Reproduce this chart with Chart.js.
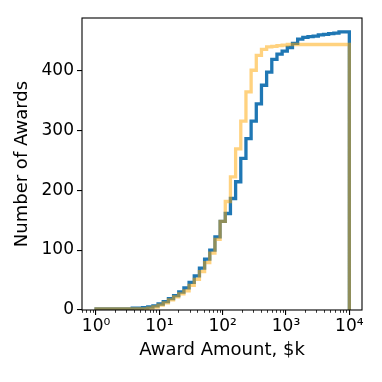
<!DOCTYPE html>
<html><head><meta charset="utf-8">
<script src="https://cdn.jsdelivr.net/npm/chart.js@4.4.0/dist/chart.umd.min.js"></script>
<style>html,body{margin:0;padding:0;background:#fff;} #wrap{width:382px;height:382px;}</style>
</head><body><div id="wrap"><canvas id="c" width="382" height="382"></canvas></div>
<script>
// Histogram bins: log-spaced from 10^0 to 10^4
const binCount = 49;
const logMin = 0;
const logMax = 4;
// Cumulative counts per bin
const blueCounts = [2,2,2,2,2,2,2,2,3,3,4,5,7,10,14,19,24,30,37,46,57,70,85,100,122,148,161,186,214,253,286,315,344,375,397,418,427,432,438,445,452,455,456,457,459,460,461,462,464];
const orangeCounts = [2,2,2,2,2,2,2,2,2,2,2,3,5,8,12,17,22,27,32,41,51,64,79,95,118,148,181,222,269,315,364,400,425,435,439,440,441,442,443,443,443,443,443,443,443,443,443,443,443];
const xTickValues = [1, 10, 100, 1000, 10000];
const xTickLabels = ['10⁰', '10¹', '10²', '10³', '10⁴'];
const yTickValues = [0, 100, 200, 300, 400];
const xLabel = 'Award Amount, $k';
const yLabel = 'Number of Awards';

const binEdges = Array.from({length: binCount + 1}, (_, k) => Math.pow(10, logMin + (logMax - logMin) * k / binCount));

function stepPoints(counts) {
  const pts = [{x: binEdges[0], y: 0}];
  counts.forEach((c, k) => pts.push({x: binEdges[k], y: c}));
  pts.push({x: binEdges[binCount], y: counts[counts.length - 1]});
  pts.push({x: binEdges[binCount], y: 0});
  return pts;
}

const span = logMax - logMin;
const xMin = Math.pow(10, logMin - 0.05 * span);
const xMax = Math.pow(10, logMax + 0.05 * span);
const yMax = Math.max(...blueCounts, ...orangeCounts) * 1.05;

const frame = {
  id: 'frame',
  afterDatasetsDraw(chart) {
    const {ctx, chartArea: a, scales: {x}} = chart;
    ctx.save();
    ctx.strokeStyle = '#000';
    ctx.lineWidth = 0.8;
    for (let n = -1; n <= 5; n++) {
      for (let m = 2; m <= 9; m++) {
        const v = m * Math.pow(10, n);
        if (v < x.min || v > x.max) continue;
        const px = Math.round(x.getPixelForValue(v)) + 0.5;
        ctx.beginPath();
        ctx.moveTo(px, a.bottom);
        ctx.lineTo(px, a.bottom + 2.8);
        ctx.stroke();
      }
    }
    ctx.lineWidth = 1.1;
    ctx.strokeRect(a.left, a.top, a.right - a.left, a.bottom - a.top);
    ctx.restore();
  }
};

const font = {family: 'DejaVu Sans', size: 17};
const titleFont = {family: 'DejaVu Sans', size: 18};

new Chart(document.getElementById('c'), {
  type: 'line',
  data: {
    datasets: [
      {
        data: stepPoints(orangeCounts),
        borderColor: 'rgba(255,165,0,0.5)',
        borderWidth: 3.3,
        stepped: 'after',
        fill: false,
        pointRadius: 0,
        borderJoinStyle: 'miter',
        borderCapStyle: 'butt',
        clip: 0
      },
      {
        data: stepPoints(blueCounts),
        borderColor: '#1f77b4',
        borderWidth: 3.3,
        stepped: 'after',
        fill: false,
        pointRadius: 0,
        borderJoinStyle: 'miter',
        borderCapStyle: 'butt',
        clip: 0
      }
    ]
  },
  options: {
    responsive: false,
    animation: false,
    layout: {padding: {top: 18, right: 20, bottom: 0, left: 0}},
    plugins: {legend: {display: false}, tooltip: {enabled: false}},
    elements: {line: {tension: 0}, point: {radius: 0}},
    scales: {
      x: {
        type: 'logarithmic',
        position: 'bottom',
        min: xMin,
        max: xMax,
        afterBuildTicks: s => { s.ticks = xTickValues.map(v => ({value: v})); },
        afterFit: s => { s.height = 72; },
        ticks: {
          autoSkip: false, maxRotation: 0, minRotation: 0, padding: 1, color: '#000', font,
          callback: v => { const i = xTickValues.indexOf(v); return i >= 0 ? xTickLabels[i] : ''; }
        },
        grid: {display: true, drawOnChartArea: false, drawTicks: true, tickLength: 5, color: '#000', lineWidth: 1.1},
        border: {display: false},
        title: {display: true, text: xLabel, color: '#000', font: titleFont, padding: {top: 0, bottom: 20.8}}
      },
      y: {
        type: 'linear',
        position: 'left',
        min: 0,
        max: yMax,
        afterBuildTicks: s => { s.ticks = yTickValues.map(v => ({value: v})); },
        afterFit: s => { s.width = 82; },
        ticks: {padding: 3, color: '#000', font, callback: v => String(v)},
        grid: {display: true, drawOnChartArea: false, drawTicks: true, tickLength: 5, color: '#000', lineWidth: 1.1},
        border: {display: false},
        title: {display: true, text: yLabel, color: '#000', font: titleFont, padding: {top: 11.7, bottom: 0}}
      }
    }
  },
  plugins: [frame]
});
</script>
</body></html>
